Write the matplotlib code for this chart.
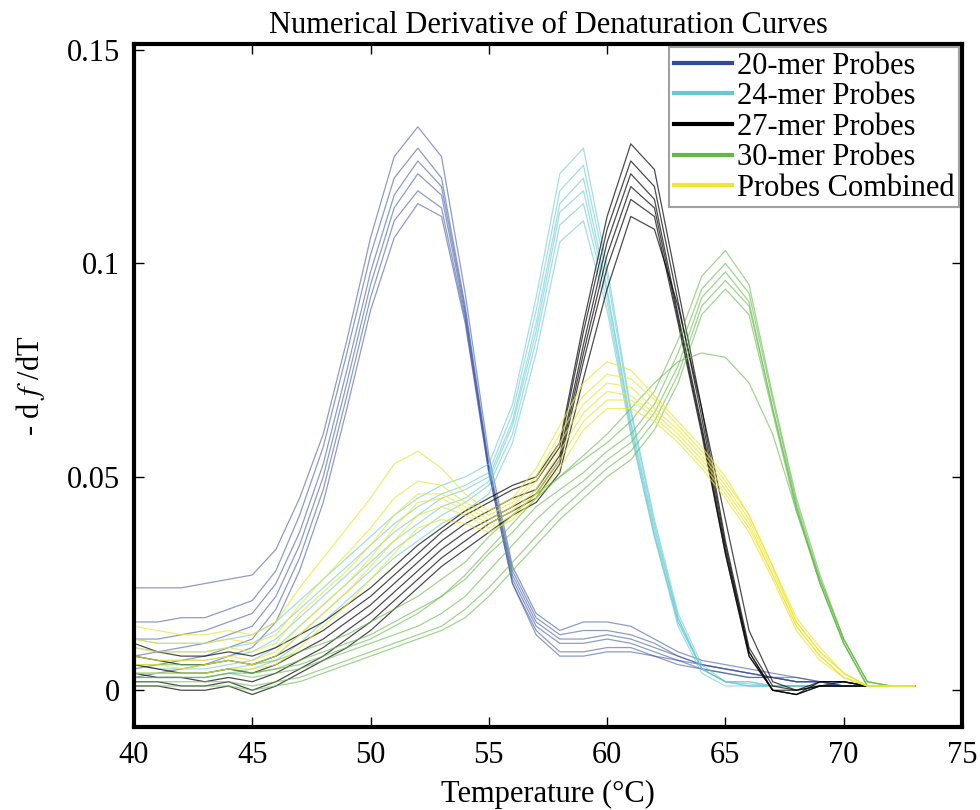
import matplotlib
matplotlib.use('Agg')
import matplotlib.pyplot as plt
from matplotlib.lines import Line2D

# temperature grid (deg C), one reading per degree
temps = list(range(40, 74))

# -df/dT traces, several replicates per probe set
probes_20mer = [
    [.024, .024, .024, .025, .026, .027, .033, .045, .060, .082, .106, .125, .132, .125, .093, .055, .029, .018, .014, .016, .016, .015, .012, .009, .007, .006, .005, .004, .003, .002, .002, .001, .001, .001],
    [.016, .016, .017, .017, .019, .021, .028, .041, .057, .079, .102, .120, .127, .120, .090, .053, .028, .017, .013, .014, .014, .013, .011, .008, .006, .005, .004, .003, .003, .002, .002, .001, .001, .001],
    [.012, .012, .013, .014, .016, .018, .025, .037, .053, .075, .098, .116, .124, .118, .089, .052, .027, .016, .012, .012, .013, .012, .010, .008, .006, .005, .004, .003, .002, .002, .001, .001, .001, .001],
    [.008, .009, .010, .011, .013, .015, .022, .034, .050, .072, .095, .113, .121, .116, .088, .052, .026, .015, .011, .011, .012, .011, .009, .007, .006, .005, .004, .003, .002, .002, .001, .001, .001, .001],
    [.005, .006, .007, .008, .010, .012, .019, .031, .047, .069, .092, .110, .117, .113, .087, .051, .025, .014, .009, .009, .010, .010, .008, .007, .005, .004, .003, .003, .002, .002, .001, .001, .001, .001],
    [.003, .004, .005, .006, .008, .010, .016, .028, .044, .066, .089, .106, .114, .111, .086, .051, .025, .013, .008, .008, .009, .009, .008, .006, .005, .004, .003, .003, .002, .002, .001, .001, .001, .001],
]
probes_24mer = [
    [.012, .011, .011, .011, .012, .013, .016, .021, .026, .031, .036, .041, .045, .048, .050, .053, .067, .092, .121, .127, .099, .066, .040, .018, .006, .002, .002, .001, .001, .001, .001, .001, .001, .001],
    [.010, .009, .009, .009, .010, .011, .014, .019, .024, .029, .034, .039, .043, .046, .048, .051, .065, .089, .117, .123, .097, .065, .039, .017, .005, .002, .002, .001, .001, .001, .001, .001, .001, .001],
    [.008, .007, .007, .007, .008, .009, .012, .017, .022, .027, .032, .037, .041, .045, .047, .050, .063, .086, .114, .120, .094, .063, .038, .017, .005, .002, .0015, .001, .001, .001, .001, .001, .001, .001],
    [.006, .005, .005, .005, .006, .007, .010, .015, .020, .025, .030, .035, .039, .043, .045, .049, .062, .084, .112, .117, .093, .062, .037, .016, .005, .002, .001, .001, .001, .001, .001, .001, .001, .001],
    [.004, .004, .004, .004, .005, .006, .008, .013, .018, .023, .028, .033, .037, .041, .044, .048, .060, .082, .109, .114, .091, .061, .036, .016, .005, .002, .001, .001, .001, .001, .001, .001, .001, .001],
    [.003, .003, .003, .003, .004, .005, .007, .011, .016, .021, .026, .031, .035, .039, .042, .046, .058, .079, .105, .110, .089, .060, .036, .015, .004, .001, .001, .001, .001, .001, .001, .001, .001, .001],
]
probes_27mer = [
    [.011, .009, .008, .008, .009, .008, .010, .013, .016, .020, .024, .029, .034, .038, .042, .045, .048, .050, .058, .086, .111, .128, .122, .094, .066, .035, .010, .001, .000, .002, .002, .001, .001, .001],
    [.008, .007, .006, .006, .007, .006, .008, .011, .014, .018, .022, .027, .032, .037, .041, .044, .047, .049, .057, .084, .108, .124, .118, .091, .064, .034, .009, .000, -.001, .002, .002, .001, .001, .001],
    [.006, .005, .004, .004, .005, .004, .006, .009, .012, .016, .020, .025, .030, .035, .039, .042, .045, .047, .055, .081, .105, .121, .115, .088, .062, .033, .009, .000, -.001, .001, .002, .001, .001, .001],
    [.004, .003, .003, .002, .003, .002, .004, .007, .010, .014, .018, .023, .028, .033, .037, .040, .043, .046, .054, .079, .102, .118, .113, .087, .061, .032, .008, .000, -.001, .001, .001, .001, .001, .001],
    [.002, .002, .001, .001, .002, .000, .002, .005, .008, .012, .016, .021, .026, .031, .035, .039, .042, .045, .053, .077, .099, .115, .111, .086, .060, .032, .008, .000, .000, .001, .001, .001, .001, .001],
    [.001, .001, .000, .000, .001, -.001, .001, .004, .007, .010, .014, .019, .024, .029, .033, .037, .041, .044, .051, .073, .094, .111, .108, .090, .066, .040, .014, .002, .000, .001, .001, .001, .001, .001],
]
probes_30mer = [
    [.006, .006, .006, .006, .007, .006, .007, .009, .011, .013, .016, .019, .022, .026, .030, .036, .041, .046, .050, .054, .058, .063, .070, .082, .097, .103, .095, .069, .045, .027, .012, .002, .001, .001],
    [.004, .004, .004, .004, .005, .004, .005, .007, .009, .011, .013, .016, .019, .022, .026, .032, .037, .043, .047, .051, .056, .060, .067, .079, .094, .100, .093, .068, .044, .026, .012, .002, .001, .001],
    [.003, .003, .003, .003, .004, .003, .004, .005, .007, .009, .011, .013, .015, .018, .022, .028, .034, .040, .045, .049, .054, .058, .065, .076, .092, .098, .091, .066, .043, .025, .011, .001, .001, .001],
    [.002, .002, .002, .002, .002, .001, .002, .003, .005, .007, .009, .011, .013, .015, .019, .024, .030, .036, .042, .047, .052, .056, .063, .074, .090, .096, .090, .066, .043, .025, .011, .001, .001, .001],
    [.001, .001, .001, .001, .001, .000, .001, .002, .004, .006, .008, .010, .012, .014, .017, .022, .028, .034, .040, .045, .050, .054, .061, .072, .088, .094, .088, .065, .042, .025, .011, .001, .001, .001],
    [.003, .003, .003, .003, .004, .004, .005, .006, .008, .010, .012, .015, .018, .022, .027, .033, .039, .045, .050, .055, .060, .066, .072, .077, .079, .078, .072, .060, .042, .026, .012, .002, .001, .001],
]
probes_combined = [
    [.015, .014, .013, .013, .014, .013, .016, .024, .031, .038, .045, .053, .056, .052, .046, .042, .045, .052, .062, .072, .077, .075, .069, .063, .057, .050, .041, .029, .017, .010, .004, .001, .001, .001],
    [.012, .011, .011, .011, .012, .011, .013, .020, .026, .032, .038, .045, .049, .048, .044, .041, .044, .050, .060, .069, .074, .073, .068, .062, .056, .049, .041, .029, .016, .009, .004, .001, .001, .001],
    [.010, .009, .009, .009, .010, .009, .011, .018, .023, .028, .034, .041, .046, .046, .043, .040, .043, .049, .058, .067, .072, .071, .066, .061, .055, .048, .040, .028, .016, .009, .004, .001, .001, .001],
    [.008, .007, .007, .007, .008, .007, .009, .015, .020, .025, .031, .038, .044, .045, .042, .039, .042, .047, .056, .065, .070, .069, .065, .060, .054, .047, .039, .027, .015, .008, .003, .001, .001, .001],
    [.006, .006, .005, .006, .007, .006, .008, .013, .018, .023, .029, .035, .041, .043, .041, .038, .041, .046, .054, .063, .068, .068, .064, .059, .053, .046, .038, .027, .015, .008, .003, .001, .001, .001],
    [.004, .004, .004, .004, .005, .005, .006, .010, .015, .020, .026, .032, .038, .040, .039, .037, .040, .045, .052, .061, .066, .066, .063, .058, .052, .045, .037, .026, .014, .007, .003, .001, .001, .001],
]

labels = ['20-mer Probes', '24-mer Probes', '27-mer Probes', '30-mer Probes', 'Probes Combined']
colors = ['#2f4aa0', '#66c8d4', '#000000', '#62b946', '#ede632']
alphas = [0.55, 0.6, 0.7, 0.6, 0.7]

plt.rcParams['font.family'] = ['Liberation Serif', 'DejaVu Serif']
plt.rcParams['mathtext.fontset'] = 'stix'

fig = plt.figure(figsize=(9.8, 8.1), dpi=100)
ax = fig.add_axes([0.1367, 0.1025, 0.8449, 0.8432])

groups = [probes_20mer, probes_24mer, probes_27mer, probes_30mer, probes_combined]
for traces, c, a in zip(groups, colors, alphas):
    for tr in traces:
        ax.plot(temps, tr, color=c, lw=0.9, alpha=a)

ax.set_xlim(40, 75)
ax.set_ylim(-0.0086, 0.1514)
ax.set_xticks([40, 45, 50, 55, 60, 65, 70, 75])
ax.set_yticks([0, 0.05, 0.1, 0.15])
ax.set_yticklabels(['0', '0.05', '0.1', '0.15'])
ax.tick_params(direction='in', top=True, right=True, length=7, width=1,
               labelsize=22, pad=10)
for s in ax.spines.values():
    s.set_linewidth(3)

ax.set_title('Numerical Derivative of Denaturation Curves', fontsize=22, pad=8)
ax.set_xlabel('Temperature (\u00b0C)', fontsize=22, labelpad=7)
ax.set_ylabel(r'- d $f$ /dT', fontsize=22, labelpad=14)

handles = [Line2D([], [], color=c, lw=3) for c in colors]
leg = ax.legend(handles, labels, loc='upper right', fontsize=22, frameon=True,
                fancybox=False, edgecolor='#a0a0a0', framealpha=1,
                borderaxespad=0.1, borderpad=0.15, labelspacing=0.05,
                handlelength=1.9, handletextpad=0.15)
leg.get_frame().set_linewidth(1.5)

fig.savefig('out.png', dpi=100)
